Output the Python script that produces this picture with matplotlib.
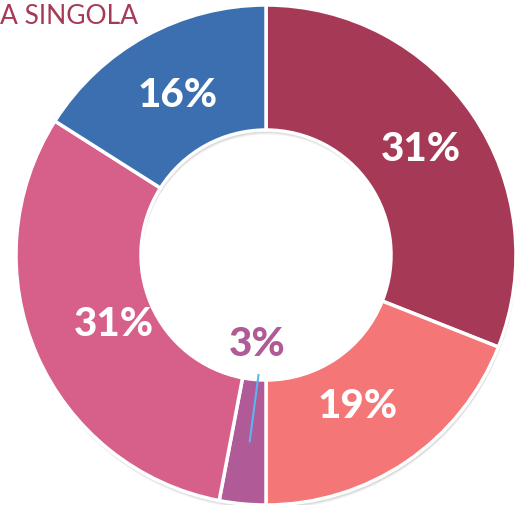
import matplotlib.pyplot as plt
import numpy as np
from matplotlib.patches import Wedge

# slice values (clockwise from 12 o'clock)
labels = ["31%", "19%", "3%", "31%", "16%"]
values = [31, 19, 3, 31, 16]
colors = ["#A63A56", "#F47676", "#B05A98", "#D6608A", "#3B6FB0"]
title = "A SINGOLA"

plt.rcParams['font.family'] = ['Lato', 'DejaVu Sans']

fig = plt.figure(figsize=(5.18, 5.11), dpi=100)
ax = fig.add_axes([16 / 518, 6 / 511, 500 / 518, 500 / 511])

# soft shadow under the ring, cast downward
for i in range(4):
    off = 0.006 + 0.004 * i
    ax.add_patch(Wedge((0.004, -off), 1.0, 0, 360, width=0.5, facecolor="black",
                       alpha=0.05, edgecolor="none", zorder=0))

wedges, _ = ax.pie(values, colors=colors, startangle=90, counterclock=False,
                   radius=1.0, wedgeprops=dict(width=0.5, edgecolor="white", linewidth=2.5))
for w in wedges:
    w.set_zorder(1)

ax.set_xlim(-1, 1)
ax.set_ylim(-1, 1)
ax.set_aspect('equal')
ax.axis('off')

# percentage labels (radius, angle nudge in degrees)
total = sum(values)
start = 90.0
label_r = [0.75, 0.71, 0.36, 0.67, 0.73]
label_da = [0, -3, 0, 1, 0]
for lab, v, r, da, c in zip(labels, values, label_r, label_da, colors):
    mid = np.deg2rad(start - v / total * 180 + da)
    start -= v / total * 360
    x, y = r * np.cos(mid), r * np.sin(mid)
    if v < 5:
        # small slice: label sits in the hole, with a leader line
        ax.plot([-0.03, -0.065], [-0.48, -0.745], color="#5BB5F0", lw=1.5, zorder=3)
        ax.text(x, y, lab, color=c, fontsize=29, fontweight="black",
                ha="center", va="center", zorder=3)
    else:
        ax.text(x, y, lab, color="white", fontsize=29, fontweight="black",
                ha="center", va="center", zorder=3)

fig.text(0.0, 1 - 16 / 511, title, color="#A63A56", fontsize=19,
         ha="left", va="center")

fig.savefig("out.png", dpi=100)
